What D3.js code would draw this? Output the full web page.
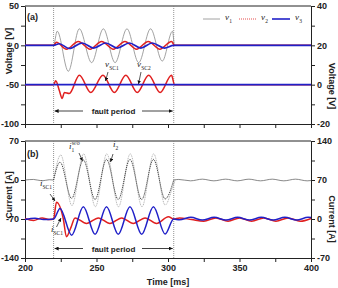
<!DOCTYPE html>
<html>
<head>
<meta charset="utf-8">
<script src="https://cdn.jsdelivr.net/npm/d3@7"></script>
<style>
  body { margin: 0; background: #fff; }
  svg { display: block; font-family: "Liberation Sans", Arial, sans-serif; }
  .tick text { font-weight: bold; font-size: 9px; fill: #222; }
  .tick line, .domain { stroke: #222; }
</style>
</head>
<body>
<div id="chart-area"></div>
<script>
// ---- data: [time ms, value] ----
var faultStart = 220, faultEnd = 304;

// (a) voltages, left axis [V]
var v1 = [[200,0],[220,0],[222.5,18],[230.3,-33],[238,21],[246.6,-22],[254.8,21],[263,-22],[271.3,21],[279.5,-22],[287.8,21],[296,-20],[303.2,18],[304.5,0],[400,0]];
var v2 = [[200,0],[220,0],[222,4],[229,-5],[237.3,5],[245.5,-5],[253.6,5],[261.8,-5],[269.9,5],[278,-5],[286.2,5],[294.3,-5],[302.5,5],[304.5,0],[400,0]];
var v3 = [[200,0],[220,0],[224,2],[231,-4],[240,3],[248,-3.5],[256.5,3],[264.5,-3.5],[273,3],[281,-3.5],[289,3],[297.5,-3.5],[304,0],[400,0]];
// (a) converter voltages, right axis [V]
var vsc1 = [[200,0],[220,0],[221.5,2],[224,-3],[226,-7],[227.5,-4],[231,-4.5],[238,4.8],[246,-4],[254.5,4.8],[262.5,-4],[270.5,4.8],[278.5,-4],[286.5,4.8],[294.5,-4],[302.5,4.8],[304.5,0],[400,0]];
var vsc2 = [[200,0],[400,0]];

// (b) currents, left axis [A]
var i1wo = [[220,0],[225,45],[232.8,-46],[241,47],[249.2,-48],[257.2,47],[265.4,-48],[273.6,47],[281.8,-48],[290,47],[298,-45],[303,-15],[305,0]];
var i2Pre = [[200,0],[206,1],[212,-1.5],[217,0.5],[220,0]];
var i2Fault = [[220,0],[224.5,32],[232.6,-33],[240.8,36],[249,-35],[257,37],[265.2,-35],[273.4,37],[281.6,-35],[289.8,37],[298,-34],[304,0]];
var i2Post = [[304,0],[307.5,1],[315.8,-1.5],[324,1.5],[332.1,-1.5],[340.3,1.5],[348.4,-1.5],[356.6,1.5],[364.7,-1.5],[372.9,1.5],[381,-1.5],[389.2,1.5],[397.3,-1.5],[400,-1]];
// (b) converter currents, right axis [A]
var iRed = [[200,1],[206,-2.5],[212,2],[217,-1],[220,0],[222,30],[226.8,0],[229,-32],[232,-16],[235,2],[243,-8],[251.3,2],[259.4,-8],[267.6,2],[275.7,-8],[284,2],[292,-8],[300.3,4],[304,0],
            [308,2],[316.5,-1],[325,-4],[333.5,2],[342,-4],[350,2],[358.5,-4],[367,2],[375.5,-4],[384,2],[392.5,-4],[400,1]];
var iBlue = [[200,-1],[207,1.5],[213,-1],[220,0],[224.5,19],[232.6,-29],[240.8,22],[249,-27.5],[257,22],[265.2,-27.5],[273.4,22],[281.6,-27.5],[289.8,22],[298,-27],[304,0],
             [308,-1.5],[316,3],[324,-2],[332.3,3],[340.5,-2],[348.7,3],[357,-2],[365.2,3],[373.5,-2],[381.7,3],[390,-2],[398,3],[400,2.5]];

// ticks
var xTicks = [200,225,250,275,300,325,350,375,400];
var xLabels = [200,250,300,350,400];
var vLeftTicks = [50,25,0,-25,-50,-75,-100], vLeftLabels = [50,0,-50,-100];
var vRightTicks = [40,30,20,10,0,-10,-20], vRightLabels = [40,20,0,-20];
var iLeftTicks = [70,35,0,-35,-70,-105,-140], iLeftLabels = [70,0,-70,-140];
var iRightTicks = [140,105,70,35,0,-35,-70], iRightLabels = [140,70,0,-70];

// ---- layout ----
var W = 338, H = 288;
var left = 25, right = 311;
var aTop = 6, aBot = 124, bTop = 141, bBot = 258;

var svg = d3.select("#chart-area").append("svg")
    .attr("width", W).attr("height", H);

var x = d3.scaleLinear().domain([200, 400]).range([left, right]);
var yA = d3.scaleLinear().domain([-100, 50]).range([aBot, aTop]);
var yAR = d3.scaleLinear().domain([-20, 40]).range([aBot, aTop]);
var yB = d3.scaleLinear().domain([-140, 70]).range([bBot, bTop]);
var yBR = d3.scaleLinear().domain([-70, 140]).range([bBot, bTop]);

var defs = svg.append("defs");
defs.append("marker").attr("id", "arr")
    .attr("viewBox", "0 0 6 6").attr("refX", 6).attr("refY", 3)
    .attr("markerWidth", 5).attr("markerHeight", 5).attr("orient", "auto")
    .append("path").attr("d", "M0,0L6,3L0,6Z").attr("fill", "#111");

function fmt(labels) {
    return d => labels.indexOf(d) >= 0 ? d : "";
}

function panel(yL, yR, top, bot, lt, ll, rt, rl, showX) {
    // frame top
    svg.append("line").attr("x1", left).attr("x2", right)
        .attr("y1", top).attr("y2", top).attr("stroke", "#222");
    svg.append("g").attr("transform", `translate(${left},0)`)
        .call(d3.axisLeft(yL).tickValues(lt).tickFormat(fmt(ll)).tickSize(4).tickSizeOuter(0).tickPadding(2));
    svg.append("g").attr("transform", `translate(${right},0)`)
        .call(d3.axisRight(yR).tickValues(rt).tickFormat(fmt(rl)).tickSize(4).tickSizeOuter(0).tickPadding(2));
    svg.append("g").attr("transform", `translate(0,${bot})`)
        .call(d3.axisBottom(x).tickValues(xTicks).tickFormat(showX ? fmt(xLabels) : "").tickSize(4).tickSizeOuter(0).tickPadding(3));
    // fault lines
    [faultStart, faultEnd].forEach(t => {
        svg.append("line").attr("x1", x(t)).attr("x2", x(t))
            .attr("y1", top).attr("y2", bot)
            .attr("stroke", "#777").attr("stroke-width", 0.8).attr("stroke-dasharray", "1,1");
    });
}

panel(yA, yAR, aTop, aBot, vLeftTicks, vLeftLabels, vRightTicks, vRightLabels, false);
panel(yB, yBR, bTop, bBot, iLeftTicks, iLeftLabels, iRightTicks, iRightLabels, true);

function draw(data, yScale, color, width, dash) {
    var line = d3.line().x(d => x(d[0])).y(d => yScale(d[1])).curve(d3.curveMonotoneX);
    svg.append("path").datum(data)
        .attr("d", line)
        .attr("fill", "none")
        .attr("stroke", color)
        .attr("stroke-width", width)
        .attr("stroke-dasharray", dash || null);
}

// (a)
draw(v1, yA, "#8a8a8a", 0.8);
draw(v2, yA, "#e02020", 1.5);
draw(v3, yA, "#2020c8", 1.6);
draw(vsc1, yAR, "#e02020", 1.5);
draw(vsc2, yAR, "#2020c8", 1.6);

// (b)
draw(i1wo, yB, "#a8a8a8", 0.9, "1,0.8");
draw(i2Pre, yB, "#555", 0.7);
draw(i2Fault, yB, "#333", 0.9, "1.2,0.8");
draw(i2Post, yB, "#555", 0.7);
draw(iRed, yBR, "#e02020", 1.5);
draw(iBlue, yBR, "#2020c8", 1.5);

// ---- text ----
function bold(txt, px, py, size, anchor) {
    return svg.append("text").attr("x", px).attr("y", py)
        .attr("font-size", size).attr("font-weight", "bold")
        .attr("text-anchor", anchor || "start").attr("fill", "#222").text(txt);
}
bold("(a)", 27, 20, 9);
bold("(b)", 27, 157, 9);

function vtitle(txt, px, py, rot) {
    svg.append("text").attr("transform", `translate(${px},${py}) rotate(${rot})`)
        .attr("text-anchor", "middle").attr("font-size", 9).attr("font-weight", "bold")
        .attr("fill", "#222").text(txt);
}
vtitle("Voltage [V]", 12, 51, -90);
vtitle("Voltage [V]", 329, 86, 90);
vtitle("Current [A]", 12, 195, -90);
vtitle("Current [A]", 329, 219, 90);
bold("Time [ms]", 168, 285, 9, "middle");

// fault period arrows
[[111, 114], [248.5, 251.5]].forEach(p => {
    bold("fault period", 113.5, p[1], 8, "middle");
    svg.append("line").attr("x1", 83).attr("x2", x(faultStart) + 1)
        .attr("y1", p[0]).attr("y2", p[0]).attr("stroke", "#111").attr("stroke-width", 0.8)
        .attr("marker-end", "url(#arr)");
    svg.append("line").attr("x1", 142).attr("x2", x(faultEnd) - 1)
        .attr("y1", p[0]).attr("y2", p[0]).attr("stroke", "#111").attr("stroke-width", 0.8)
        .attr("marker-end", "url(#arr)");
});

// symbol labels: italic letter, subscript and optional superscript
function sym(letter, sub, sup, px, py) {
    var w = letter === "i" ? 2.8 : 4.6;
    var g = svg.append("g").attr("font-family", "'Liberation Serif', 'DejaVu Serif', serif").attr("fill", "#222");
    g.append("text").attr("x", px).attr("y", py)
        .attr("font-style", "italic").attr("font-size", 9).text(letter);
    if (sup) g.append("text").attr("x", px + w).attr("y", py - 4)
        .attr("font-style", "italic").attr("font-size", 5.5).text(sup);
    if (sub) g.append("text").attr("x", px + w - 0.3).attr("y", py + 3)
        .attr("font-size", 5.5).text(sub);
}
function arrow(x1, y1, x2, y2) {
    svg.append("line").attr("x1", x1).attr("y1", y1).attr("x2", x2).attr("y2", y2)
        .attr("stroke", "#111").attr("stroke-width", 0.7).attr("marker-end", "url(#arr)");
}

// legend
var legend = [["1", "#8a8a8a", 0.8, null, 203, 220], ["2", "#e02020", 0.8, "1,1", 239, 256], ["3", "#2020c8", 1.6, null, 272, 290]];
legend.forEach(l => {
    svg.append("line").attr("x1", l[4]).attr("x2", l[5]).attr("y1", 19).attr("y2", 19)
        .attr("stroke", l[1]).attr("stroke-width", l[2]).attr("stroke-dasharray", l[3]);
    sym("v", l[0], null, l[5] + 5, 20);
});

sym("v", "SC1", null, 105, 67);
arrow(108, 72, 105.5, 81);
sym("v", "SC2", null, 137, 67);
arrow(141, 72, 138.5, 84);

sym("i", "1", "w/o", 69, 149);
arrow(79, 153, 82.5, 161);
sym("i", "2", null, 113, 147);
arrow(113, 154, 110.5, 162);
sym("i", "SC1", null, 40, 186);
arrow(50, 194, 55, 201);
sym("i", "SC1", null, 51, 232);
arrow(56.5, 227, 61, 218);
</script>
</body>
</html>
